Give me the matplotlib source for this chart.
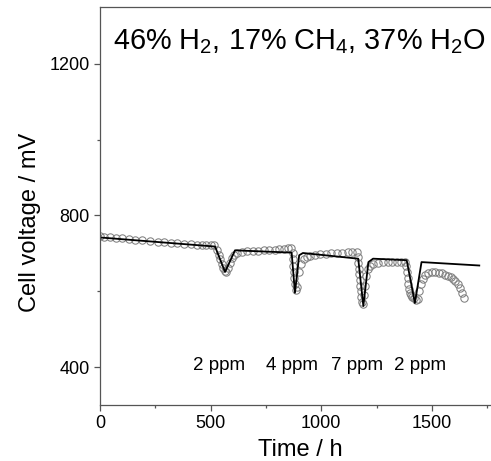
import matplotlib.pyplot as plt
from matplotlib.ticker import MultipleLocator

plt.rcParams['font.family'] = ['Liberation Sans', 'DejaVu Sans']
plt.rcParams['mathtext.default'] = 'regular'

# measured cell voltage (open circles)
meas_t = [0, 20, 45, 70, 100, 130, 160, 190, 225, 260, 290, 320, 350, 380, 410, 440, 460, 480, 500, 515,
          528, 536, 543, 550, 557, 564, 571, 578, 586, 595, 605, 620,
          640, 665, 690, 715, 740, 765, 790, 810, 830, 850, 865,
          870, 872, 874, 876, 878, 880, 884, 890, 898, 908, 920, 935, 950,
          970, 995, 1020, 1045, 1070, 1095, 1120, 1140, 1160,
          1166, 1168, 1170, 1172, 1174, 1176, 1178, 1180, 1183, 1188, 1194, 1198, 1203, 1210, 1220, 1235,
          1255, 1280, 1300, 1320, 1340, 1360, 1378,
          1384, 1387, 1390, 1393, 1396, 1400, 1405, 1412, 1420, 1428, 1436, 1442, 1450, 1460, 1470, 1482,
          1499, 1515, 1530, 1545, 1560, 1572, 1584, 1596, 1606, 1616, 1626, 1636, 1646]
meas_v = [745, 744, 743, 741, 740, 738, 736, 735, 733, 731, 730, 728, 727, 725, 724, 723, 722, 722, 721, 721,
          710, 697, 684, 672, 661, 653, 652, 662, 675, 688, 697, 702,
          704, 705, 706, 707, 708, 709, 710, 711, 712, 713, 713,
          700, 684, 668, 652, 636, 620, 604, 612, 650, 672, 684, 690, 694,
          696, 698, 699, 700, 701, 702, 703, 703, 703,
          690, 675, 660, 645, 630, 615, 600, 585, 572, 566, 590, 615, 640, 658, 668, 673,
          675, 676, 676, 676, 676, 676, 676,
          668, 652, 636, 620, 606, 596, 590, 586, 582, 578, 580, 600, 618, 632, 642, 647,
          650, 650, 649, 647, 644, 641, 637, 632, 626, 618, 608, 596, 581]

# model curve (solid line)
model_t = [0, 520, 565, 610, 866, 881, 900, 917, 1167, 1190, 1213, 1234, 1386, 1423, 1453, 1714]
model_v = [742, 718, 651, 708, 702, 596, 695, 701, 686, 561, 677, 686, 682, 569, 677, 668]

# H2S poisoning steps
ppm_labels = ['2 ppm', '4 ppm', '7 ppm', '2 ppm']
ppm_t = [538, 868, 1161, 1446]

fig = plt.figure(figsize=(4.91, 4.61), dpi=100)
ax = fig.add_axes([0.2037, 0.1215, 0.7963, 0.8633])

ax.plot(meas_t, meas_v, 'o', mfc='none', mec='#808080', ms=5.3, mew=0.75)
ax.plot(model_t, model_v, '-', color='black', lw=1.3)

for lab, t in zip(ppm_labels, ppm_t):
    ax.text(t, 405, lab, ha='center', va='center', fontsize=13.5)

ax.text(58, 1260, '46% H$_2$, 17% CH$_4$, 37% H$_2$O', ha='left', va='center', fontsize=20.8)

ax.set_xlim(0, 1767)
ax.set_ylim(300, 1350)
ax.xaxis.set_major_locator(MultipleLocator(500))
ax.xaxis.set_minor_locator(MultipleLocator(250))
ax.yaxis.set_major_locator(MultipleLocator(400))
ax.yaxis.set_minor_locator(MultipleLocator(200))
ax.tick_params(which='major', direction='out', length=4, width=0.9, labelsize=13, colors='#555555', labelcolor='black')
ax.tick_params(which='minor', direction='out', length=2.5, width=0.9, colors='#555555')
ax.spines['right'].set_visible(False)
for s in ['left', 'bottom', 'top']:
    ax.spines[s].set_color('#555555')
    ax.spines[s].set_linewidth(0.9)

ax.set_xlabel('Time / h', fontsize=17)
ax.set_ylabel('Cell voltage / mV', fontsize=17)
ax.xaxis.set_label_coords(0.512, -0.085)
ax.yaxis.set_label_coords(-0.151, 0.46)

fig.savefig('out.png', dpi=100)
